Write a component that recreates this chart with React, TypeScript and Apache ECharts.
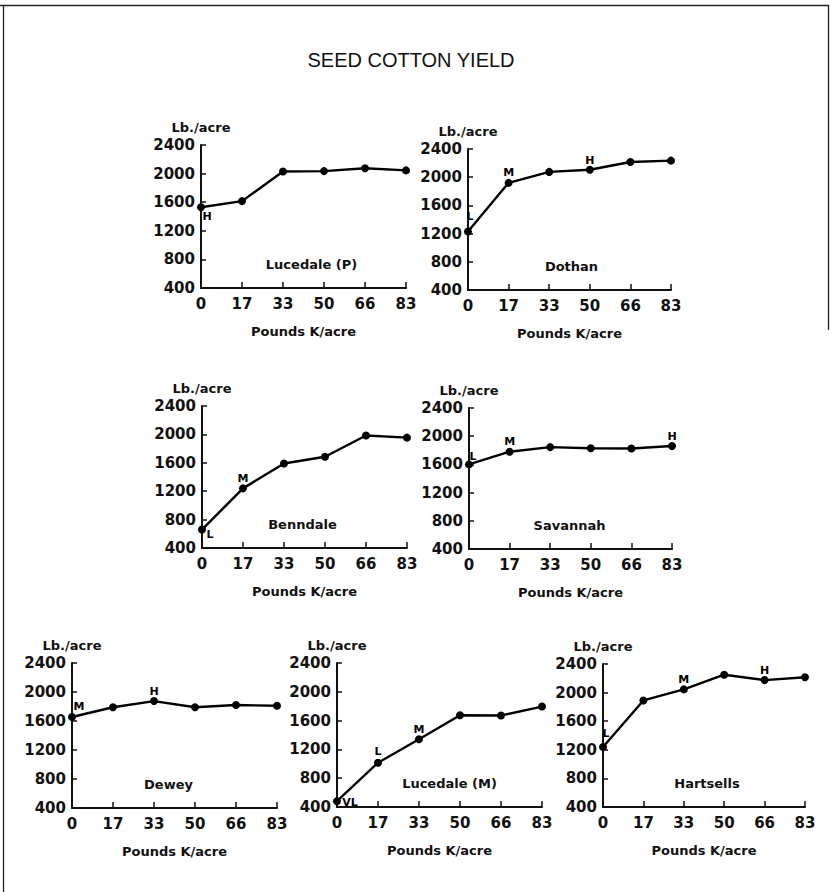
import React, { useEffect, useRef } from 'react';
import * as echarts from 'echarts';

const chartTitle = 'SEED COTTON YIELD';
const potassiumRates = ['0', '17', '33', '50', '66', '83'];
const yAxisUnit = 'Lb./acre';
const xAxisUnit = 'Pounds K/acre';

const soils = ['Lucedale (P)', 'Dothan', 'Benndale', 'Savannah', 'Dewey', 'Lucedale (M)', 'Hartsells'];

const lucedalePYield = [1530, 1615, 2030, 2035, 2075, 2045];
const dothanYield = [1230, 1920, 2075, 2105, 2215, 2235];
const benndaleYield = [660, 1240, 1590, 1685, 1985, 1955];
const savannahYield = [1600, 1780, 1845, 1830, 1825, 1860];
const deweyYield = [1655, 1790, 1875, 1790, 1820, 1810];
const lucedaleMYield = [480, 1015, 1340, 1675, 1670, 1795];
const hartsellsYield = [1240, 1890, 2045, 2250, 2175, 2215];

// soil-test K rating written beside points ('' = none)
const lucedalePRating = ['H', '', '', '', '', ''];
const dothanRating = ['L', 'M', '', 'H', '', ''];
const benndaleRating = ['L', 'M', '', '', '', ''];
const savannahRating = ['L', 'M', '', '', '', 'H'];
const deweyRating = ['M', '', 'H', '', '', ''];
const lucedaleMRating = ['VL', 'L', 'M', '', '', ''];
const hartsellsRating = ['L', '', 'M', '', 'H', ''];

const yields = [lucedalePYield, dothanYield, benndaleYield, savannahYield, deweyYield, lucedaleMYield, hartsellsYield];
const ratings = [lucedalePRating, dothanRating, benndaleRating, savannahRating, deweyRating, lucedaleMRating, hartsellsRating];

// layout: plot box [left, top, width, height], soil-name x shift
const panelBoxes = [
  [201, 145, 205, 143],
  [468, 149, 203, 141],
  [202, 406, 205, 142],
  [469, 408, 203, 141],
  [72, 663, 205, 145],
  [337, 663, 205, 144],
  [603, 664, 202, 143],
];
const soilNameShift = [8, 2, -2, -1, -6, 10, 3];
// offsets of rating letters from their points [dx, dy]
const ratingOffsets = [
  [[6, 9], null, null, null, null, null],
  [[2, -15], [0, -10], null, [0, -9], null, null],
  [[8, 5], [0, -10], null, null, null, null],
  [[4, -8], [0, -10], null, null, null, [0, -10]],
  [[7, -11], null, [0, -10], null, null, null],
  [[13, 1], [0, -11], [0, -10], null, null, null],
  [[3, -13], null, [0, -10], null, [0, -10], null],
];

const FONT = "'DejaVu Sans', 'Liberation Sans', sans-serif";

export default function App() {
  const ref = useRef<HTMLDivElement>(null);
  useEffect(() => {
    if (!ref.current) return;
    const chart = echarts.init(ref.current, undefined, { renderer: 'svg' });
    const grid: any[] = [];
    const xAxis: any[] = [];
    const yAxis: any[] = [];
    const series: any[] = [];
    const graphic: any[] = [
      { type: 'line', shape: { x1: 0, y1: 5.5, x2: 829, y2: 5.5 }, style: { stroke: '#222', lineWidth: 1.3 } },
      { type: 'line', shape: { x1: 3.5, y1: 5, x2: 3.5, y2: 892 }, style: { stroke: '#222', lineWidth: 1.3 } },
      { type: 'line', shape: { x1: 828.5, y1: 5, x2: 828.5, y2: 330 }, style: { stroke: '#222', lineWidth: 1.3 } },
      {
        type: 'text', x: 411, y: 60,
        style: { text: chartTitle, fontSize: 20, fontFamily: "'Liberation Sans', Arial, sans-serif", fill: '#111', textAlign: 'center', textVerticalAlign: 'middle' },
      },
    ];
    panelBoxes.forEach((b, i) => {
      const [left, top, width, height] = b;
      grid.push({ left, top, width, height, containLabel: false });
      xAxis.push({
        type: 'category', gridIndex: i, data: potassiumRates, boundaryGap: false,
        name: xAxisUnit, nameLocation: 'middle', nameGap: 37,
        nameTextStyle: { fontSize: 13, fontWeight: 'bold', color: '#111', fontFamily: FONT },
        axisLine: { lineStyle: { color: '#111', width: 2 } },
        axisTick: { inside: true, length: 6, lineStyle: { color: '#111', width: 1.5 } },
        axisLabel: { margin: 8, fontSize: 15, fontWeight: 'bold', color: '#111', fontFamily: FONT },
        splitLine: { show: false },
      });
      yAxis.push({
        type: 'value', gridIndex: i, min: 400, max: 2400, interval: 400,
        name: yAxisUnit, nameLocation: 'end', nameGap: 11,
        nameTextStyle: { fontSize: 13, fontWeight: 'bold', color: '#111', fontFamily: FONT, align: 'center' },
        axisLine: { show: true, lineStyle: { color: '#111', width: 2 } },
        axisTick: { show: true, inside: true, length: 5, lineStyle: { color: '#111', width: 1.5 } },
        axisLabel: { margin: 6, fontSize: 15, fontWeight: 'bold', color: '#111', fontFamily: FONT, formatter: (v: number) => String(v) },
        splitLine: { show: false },
      });
      series.push({
        type: 'line', xAxisIndex: i, yAxisIndex: i,
        symbol: 'circle', symbolSize: 8,
        lineStyle: { color: '#000', width: 2.4 },
        itemStyle: { color: '#000' },
        data: yields[i].map((v, j) => {
          const r = ratings[i][j];
          const off = ratingOffsets[i][j];
          if (!r || !off) return v;
          return {
            value: v,
            label: {
              show: true, formatter: r, position: 'inside', offset: off,
              fontSize: 11, fontWeight: 'bold', color: '#000', fontFamily: FONT,
            },
          };
        }),
      });
      graphic.push({
        type: 'text', x: left + width / 2 + soilNameShift[i], y: top + height - 24,
        style: { text: soils[i], fontSize: 13, fontWeight: 'bold', fontFamily: FONT, fill: '#111', textAlign: 'center', textVerticalAlign: 'middle' },
      });
    });
    chart.setOption({
      animation: false,
      backgroundColor: '#fff',
      textStyle: { fontFamily: FONT },
      grid, xAxis, yAxis, series, graphic,
    });
    return () => chart.dispose();
  }, []);
  return <div ref={ref} style={{ position: 'absolute', left: 0, top: 0, width: 830, height: 892 }} />;
}
